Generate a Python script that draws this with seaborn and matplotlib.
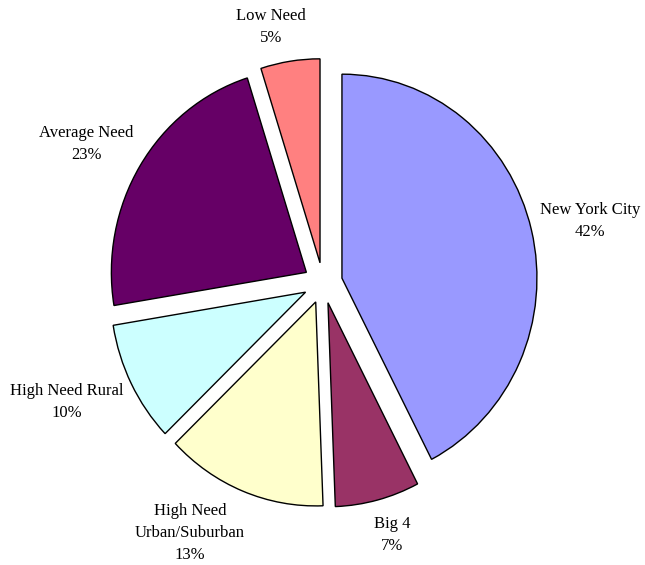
import matplotlib
matplotlib.use("Agg")
import matplotlib.pyplot as plt
import seaborn as sns

# shares of the total (%), clockwise from 12 o'clock
regions = ['New York City', 'Big 4', 'High Need\nUrban/Suburban', 'High Need Rural',
           'Average Need', 'Low Need']
shares = [42.4, 7.0, 13.4, 9.6, 22.7, 4.9]
slice_colors = ['#9999FF', '#993366', '#FFFFCC', '#CCFFFF', '#660066', '#FF8080']

# label centres, in pie radii from the centre
label_xy = [(1.369, 0.304), (0.354, -1.235), (-0.682, -1.225),
            (-1.313, -0.583), (-1.215, 0.681), (-0.267, 1.255)]

sns.set_style('white')
plt.rcParams['font.family'] = ['Liberation Serif', 'DejaVu Serif']

fig = plt.figure(figsize=(6.45, 5.65), dpi=100)
ax = fig.add_axes([0, 0, 1, 1])

wedges, _ = ax.pie(shares, colors=sns.color_palette(slice_colors), startangle=90,
                   counterclock=False, explode=[0.1] * len(shares),
                   wedgeprops=dict(edgecolor='black', linewidth=1.0))

for name, pct, (x, y) in zip(regions, shares, label_xy):
    ax.text(x, y, f'{name}\n{round(pct)}%', ha='center', va='center',
            multialignment='center', fontsize=12, color='black', linespacing=1.5)

# slightly taller than wide, as in the original
ax.set_aspect('auto')
ax.set_xlim(-323 / 195, (645 - 323) / 195)
ax.set_ylim(-(565 - 283) / 204, 283 / 204)
ax.axis('off')

fig.savefig('out.png', dpi=100)
